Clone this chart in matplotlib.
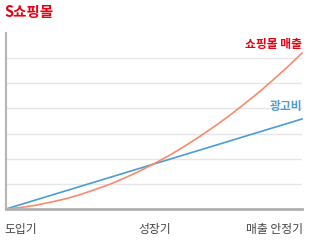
import matplotlib
matplotlib.use("Agg")
import matplotlib.pyplot as plt

plt.rcParams['font.family'] = ['Noto Sans CJK KR', 'DejaVu Sans']

stages = ["도입기", "성장기", "매출 안정기"]
t = [0.0, 0.05, 0.1, 0.15, 0.2, 0.25, 0.3, 0.35, 0.4, 0.45, 0.5,
     0.55, 0.6, 0.65, 0.7, 0.75, 0.8, 0.85, 0.9, 0.95, 1.0]
sales = [0.0, 0.06, 0.15, 0.27, 0.4, 0.57, 0.77, 0.98, 1.23, 1.5, 1.8,
         2.12, 2.47, 2.85, 3.25, 3.67, 4.13, 4.6, 5.11, 5.64, 6.2]
ad_t = [0.0, 1.0]
ad_cost = [0.0, 3.58]
title = "S쇼핑몰"
sales_label = "쇼핑몰 매출"
ad_label = "광고비"

W, H = 311, 243
fig = plt.figure(figsize=(W / 100, H / 100), dpi=100)
ax = fig.add_axes([6 / W, 1 - 209 / H, 296 / W, 176 / H])
ax.set_xlim(0, 1)
ax.set_ylim(0, 7)
ax.set_yticks(range(1, 7))
ax.yaxis.grid(True, color='#e6e6e6', linewidth=1)
ax.set_axisbelow(True)
ax.tick_params(left=False, bottom=False, labelleft=False, labelbottom=False)
for s in ['top', 'right']:
    ax.spines[s].set_visible(False)
ax.spines['left'].set_color('#b5b5b5')
ax.spines['left'].set_linewidth(1.5)
ax.spines['bottom'].set_color('#b0b0b0')
ax.spines['bottom'].set_linewidth(2)

ax.plot(ad_t, ad_cost, color='#4b9bd5', linewidth=1.2, clip_on=False)
ax.plot(t, sales, color='#fa8a6c', linewidth=1.2, clip_on=False)

fig.text(4 / W, 1 - 12 / H, title, color='#e50012', fontsize=10.5,
         fontweight='bold', va='center', ha='left')
fig.text(302 / W, 1 - 44 / H, sales_label, color='#e50012', fontsize=8.5,
         fontweight='bold', va='center', ha='right')
fig.text(302 / W, 1 - 106 / H, ad_label, color='#4b9bd5', fontsize=8.5,
         fontweight='bold', va='center', ha='right')

xpos = [4 / W, 155 / W, 303 / W]
has = ['left', 'center', 'right']
for x, lab, ha in zip(xpos, stages, has):
    fig.text(x, 1 - 229 / H, lab, color='#444444', fontsize=8.5,
             fontweight='medium', va='center', ha=ha)

fig.savefig("out.png", dpi=100, facecolor='white')
